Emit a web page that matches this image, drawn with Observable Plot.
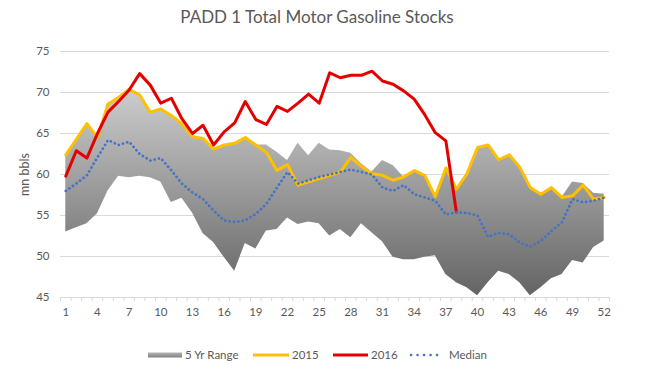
<!DOCTYPE html>
<html>
<head>
<meta charset="utf-8">
<script src="https://cdn.jsdelivr.net/npm/d3@7"></script>
<script src="https://cdn.jsdelivr.net/npm/@observablehq/plot@0.6"></script>
<style>
  html, body { margin: 0; padding: 0; background: #fff; }
  #wrap { position: relative; width: 662px; height: 373px; overflow: hidden; font-family: Lato, "Open Sans", sans-serif; }
  #title { position: absolute; left: 0; top: 6px; width: 634px; text-align: center; font-size: 17px; color: #595959; }
  #chart { position: absolute; left: 0; top: 0; }
  #legend { position: absolute; left: 0; top: 340px; }
</style>
</head>
<body>
<div id="wrap">
  <div id="chart"></div>
  <div id="title">PADD 1 Total Motor Gasoline Stocks</div>
  <div id="legend"></div>
</div>
<script>
const weeks = d3.range(1, 53);
const xTickLabels = [1, 4, 7, 10, 13, 16, 19, 22, 25, 28, 31, 34, 37, 40, 43, 46, 49, 52];
const yTicks = [45, 50, 55, 60, 65, 70, 75];

const rangeLow = [53.0, 53.5, 54.0, 55.2, 58.0, 59.8, 59.6, 59.8, 59.6, 59.1, 56.6, 57.1, 55.3, 52.8, 51.7, 49.9, 48.2, 51.6, 50.9, 53.1, 53.3, 54.7, 53.9, 54.2, 54.0, 52.5, 53.3, 52.3, 54.0, 52.9, 51.8, 49.9, 49.6, 49.6, 49.9, 50.1, 47.8, 46.8, 46.2, 45.2, 46.8, 48.2, 47.8, 46.8, 45.2, 46.2, 47.3, 47.8, 49.5, 49.2, 51.1, 51.9];
const rangeHigh = [62.4, 64.3, 66.2, 64.5, 68.6, 69.4, 70.4, 69.7, 67.6, 68.0, 67.2, 66.2, 64.6, 64.4, 63.1, 63.6, 63.8, 64.5, 63.6, 63.6, 62.7, 61.7, 63.8, 62.3, 63.8, 63.0, 62.9, 62.6, 61.3, 60.3, 61.7, 61.1, 59.7, 60.5, 59.9, 57.3, 60.8, 58.2, 60.1, 63.3, 63.6, 61.8, 62.4, 60.9, 58.4, 57.6, 58.4, 57.2, 59.1, 58.9, 57.7, 57.6];
const y2015 = [62.4, 64.3, 66.2, 64.5, 68.6, 69.4, 70.4, 69.7, 67.6, 68.0, 67.2, 66.2, 64.6, 64.4, 63.1, 63.6, 63.8, 64.5, 63.6, 62.7, 60.5, 61.2, 58.7, 59.1, 59.5, 59.9, 60.3, 62.1, 61.0, 60.1, 59.9, 59.3, 59.7, 60.5, 59.9, 57.3, 60.8, 58.2, 60.1, 63.3, 63.6, 61.8, 62.4, 60.9, 58.4, 57.6, 58.4, 57.2, 57.4, 58.7, 57.0, 57.2];
const y2016 = [59.8, 62.9, 62.0, 65.0, 67.6, 68.9, 70.3, 72.3, 70.9, 68.7, 69.3, 66.8, 65.0, 66.0, 63.6, 65.2, 66.3, 68.9, 66.7, 66.1, 68.3, 67.7, 68.7, 69.8, 68.7, 72.4, 71.8, 72.1, 72.1, 72.6, 71.4, 71.0, 70.2, 69.2, 67.3, 65.1, 64.1, 55.4];
const median = [58.0, 58.9, 59.9, 62.1, 64.2, 63.6, 64.0, 62.5, 61.7, 62.0, 60.5, 58.9, 57.8, 57.0, 55.6, 54.4, 54.2, 54.4, 55.2, 56.4, 58.4, 60.3, 58.9, 59.3, 59.7, 60.0, 60.3, 60.6, 60.3, 60.0, 58.4, 58.0, 58.7, 57.6, 57.2, 56.8, 55.1, 55.4, 55.3, 55.0, 52.4, 52.9, 52.7, 51.7, 51.2, 51.9, 53.1, 54.2, 57.0, 56.6, 56.8, 57.2];

const rangeData = weeks.map((w, i) => ({week: w, low: rangeLow[i], high: rangeHigh[i]}));
const d2015 = weeks.map((w, i) => ({week: w, v: y2015[i]}));
const d2016 = y2016.map((v, i) => ({week: weeks[i], v}));
const dMed = weeks.map((w, i) => ({week: w, v: median[i]}));
const tickBounds = d3.range(0, 53).map(d => d + 0.5);

const textColor = "#595959";
const gridColor = "#d9d9d9";

const svg = Plot.plot({
  width: 662,
  height: 373,
  marginTop: 51,
  marginBottom: 76,
  marginLeft: 60,
  marginRight: 53,
  style: {fontFamily: "Lato, 'Open Sans', sans-serif", background: "transparent"},
  x: {type: "linear", domain: [0.5, 52.5]},
  y: {domain: [45, 75]},
  marks: [
    Plot.ruleY(yTicks, {stroke: gridColor, strokeWidth: 1}),
    Plot.axisX({ticks: tickBounds, tickSize: 4, tickFormat: () => "", stroke: gridColor, label: null}),
    Plot.axisX({ticks: xTickLabels, tickSize: 0, tickPadding: 10, fontSize: 11.5, fill: textColor, label: null}),
    Plot.axisY({ticks: yTicks, tickSize: 0, tickPadding: 11, fontSize: 11.5, fill: textColor, label: null}),
    Plot.axisY({ticks: [], tickSize: 0, fontSize: 12.5, fill: textColor,
                label: "mn bbls", labelAnchor: "center", labelOffset: 40, labelArrow: "none"}),
    Plot.areaY(rangeData, {x: "week", y1: "low", y2: "high", fill: "url(#rangeGrad)", curve: "linear"}),
    Plot.line(d2015, {x: "week", y: "v", stroke: "#ffc000", strokeWidth: 3, strokeLinejoin: "round"}),
    Plot.line(d2016, {x: "week", y: "v", stroke: "#e50000", strokeWidth: 3, strokeLinejoin: "round"}),
    Plot.line(dMed, {x: "week", y: "v", stroke: "#4472c4", strokeWidth: 2.7, strokeDasharray: "0.1 4.3", strokeLinecap: "round"})
  ]
});
svg.insertAdjacentHTML("afterbegin",
  `<defs><linearGradient id="rangeGrad" x1="0" y1="0" x2="0" y2="1">
     <stop offset="0" stop-color="#cdcdcd"/><stop offset="1" stop-color="#646464"/>
   </linearGradient></defs>`);
document.getElementById("chart").appendChild(svg);

// Legend
const legendItems = [
  {label: "5 Yr Range", kind: "range", x0: 148, x1: 182, tx: 185},
  {label: "2015", kind: "line", color: "#ffc000", x0: 253, x1: 289, tx: 292},
  {label: "2016", kind: "line", color: "#e50000", x0: 333, x1: 368, tx: 371},
  {label: "Median", kind: "dot", color: "#4472c4", x0: 410, x1: 443, tx: 449}
];
const ns = "http://www.w3.org/2000/svg";
const lg = d3.create("svg").attr("width", 662).attr("height", 30).attr("xmlns", ns);
lg.append("defs").html(`<linearGradient id="legGrad" x1="0" y1="0" x2="0" y2="1"><stop offset="0" stop-color="#b5b5b5"/><stop offset="1" stop-color="#808080"/></linearGradient>`);
const cy = 15;
for (const it of legendItems) {
  if (it.kind === "range") {
    lg.append("rect").attr("x", it.x0).attr("y", cy - 2.5).attr("width", it.x1 - it.x0).attr("height", 5).attr("fill", "url(#legGrad)");
  } else if (it.kind === "line") {
    lg.append("line").attr("x1", it.x0).attr("x2", it.x1).attr("y1", cy).attr("y2", cy).attr("stroke", it.color).attr("stroke-width", 3);
  } else {
    lg.append("line").attr("x1", it.x0 + 1).attr("x2", it.x1).attr("y1", cy).attr("y2", cy).attr("stroke", it.color).attr("stroke-width", 2.5).attr("stroke-dasharray", "0.1 6.4").attr("stroke-linecap", "round");
  }
  lg.append("text").attr("x", it.tx).attr("y", cy).attr("dy", "0.35em").attr("fill", textColor)
    .attr("font-size", 11.5).attr("font-family", "Lato, 'Open Sans', sans-serif").text(it.label);
}
document.getElementById("legend").appendChild(lg.node());
</script>
</body>
</html>
